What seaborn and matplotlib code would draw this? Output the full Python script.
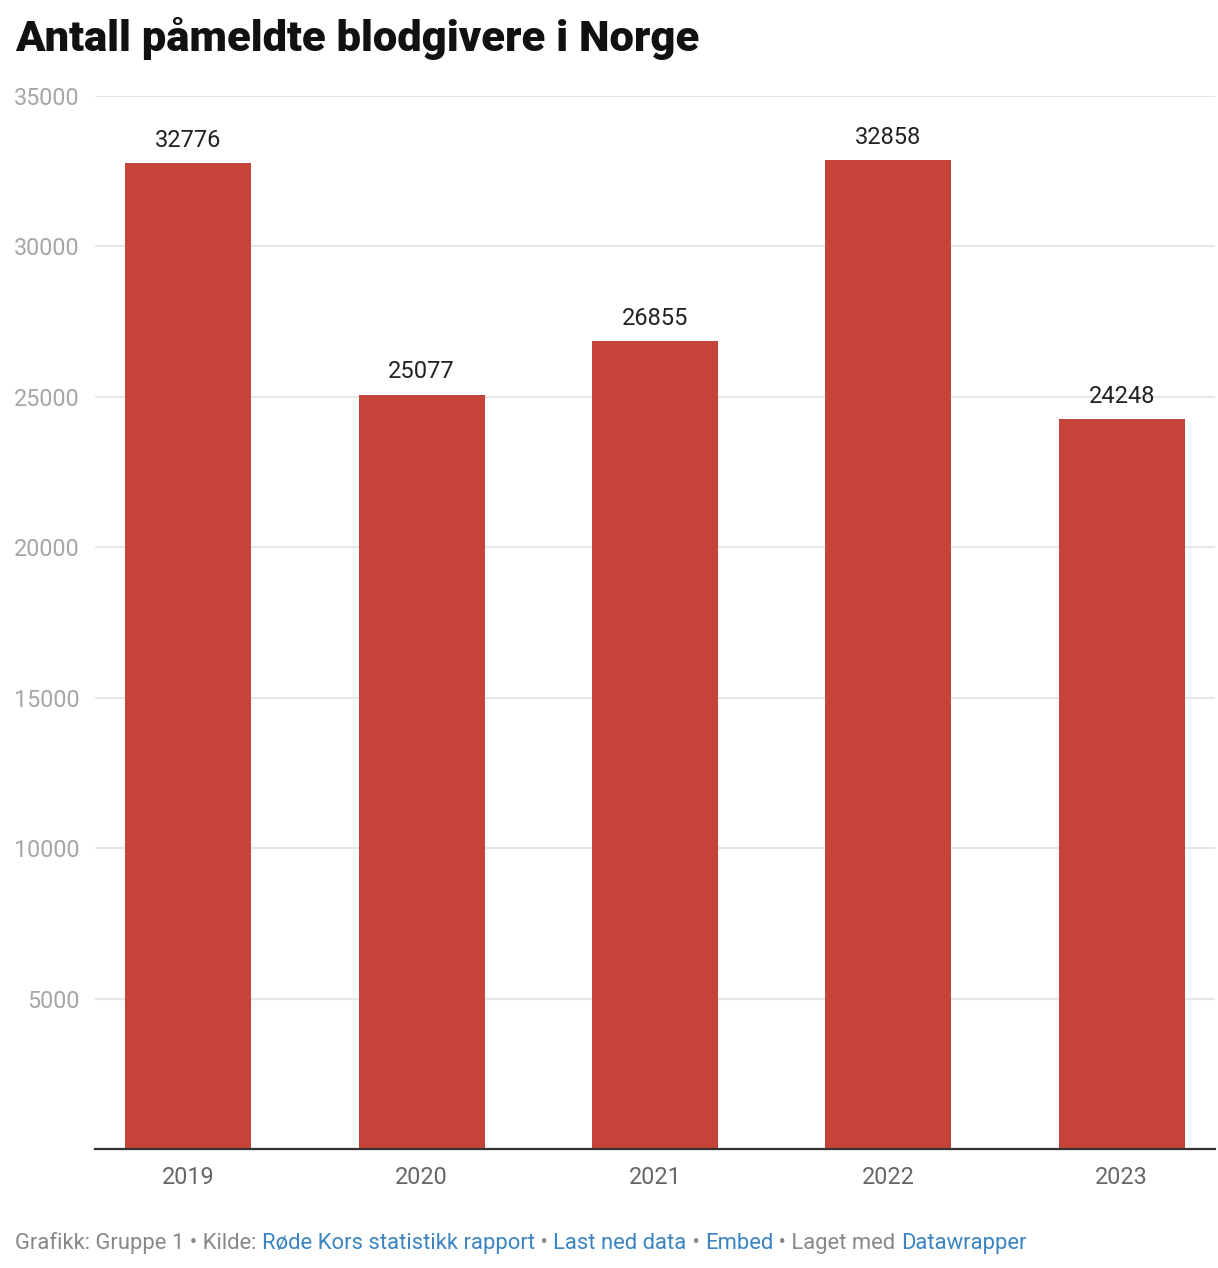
import matplotlib
matplotlib.use("Agg")
import matplotlib.pyplot as plt
import seaborn as sns
import pandas as pd

years = ["2019", "2020", "2021", "2022", "2023"]
donors = [32776, 25077, 26855, 32858, 24248]
yticks = [5000, 10000, 15000, 20000, 25000, 30000, 35000]

title = "Antall påmeldte blodgivere i Norge"
footer_parts = [
    ("Grafikk: Gruppe 1 • Kilde: ", "#888888"),
    ("Røde Kors statistikk rapport", "#3a84c4"),
    (" • ", "#888888"),
    ("Last ned data", "#3a84c4"),
    (" • ", "#888888"),
    ("Embed", "#3a84c4"),
    (" • Laget med ", "#888888"),
    ("Datawrapper", "#3a84c4"),
]

sns.set_theme(style="white")
plt.rcParams["font.family"] = ["Roboto", "DejaVu Sans"]

df = pd.DataFrame({"year": years, "donors": donors})

W, H = 1218, 1268
fig = plt.figure(figsize=(W / 100, H / 100), dpi=100)
ax = fig.add_axes([95 / W, 1 - 1149 / H, (1215 - 95) / W, (1149 - 96) / H])

sns.barplot(data=df, x="year", y="donors", color="#c6433a", saturation=1,
            width=0.54, ax=ax, zorder=3, linewidth=0)

ax.set_xlim(-0.4, 4.4)
ax.set_ylim(0, 35000)
ax.set_yticks(yticks)
ax.set_yticklabels([str(v) for v in yticks])
ax.yaxis.grid(True, color="#e6e6e6", linewidth=1.5, zorder=0)
ax.set_axisbelow(True)
for s in ["top", "right", "left"]:
    ax.spines[s].set_visible(False)
ax.spines["bottom"].set_color("#333333")
ax.spines["bottom"].set_linewidth(1.6)
ax.spines["bottom"].set_zorder(5)
ax.tick_params(axis="y", length=0, pad=11, labelsize=16.8, labelcolor="#a6a6a6")
ax.tick_params(axis="x", length=0, pad=12, labelsize=16.8, labelcolor="#666666")
ax.set_xlabel("")
ax.set_ylabel("")

for i, v in enumerate(donors):
    ax.annotate(str(v), (i, v), xytext=(0, 8), textcoords="offset points",
                ha="center", va="bottom", fontsize=17, color="#222222")

fig.text(15 / W, 1 - 38 / H, title, fontsize=31.3, fontweight="black",
         color="#111111", ha="left", va="center")

fig.canvas.draw()
renderer = fig.canvas.get_renderer()
x = 15
for txt, col in footer_parts:
    t = fig.text(x / W, 1 - 1249 / H, txt, fontsize=15.8, color=col,
                 ha="left", va="baseline")
    bb = t.get_window_extent(renderer=renderer)
    x = bb.x1

fig.savefig("out.png", dpi=100)
